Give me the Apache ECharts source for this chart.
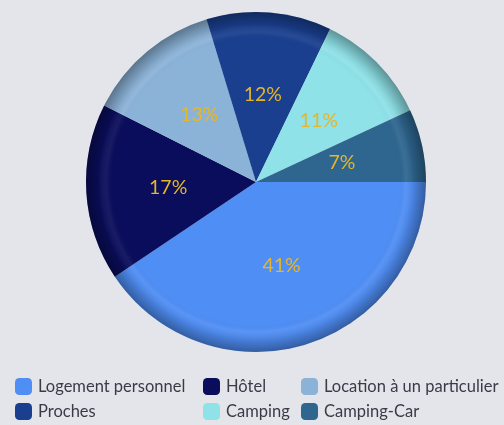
<!DOCTYPE html>
<html><head><meta charset="utf-8">
<script src="https://cdn.jsdelivr.net/npm/echarts@6/dist/echarts.min.js"></script>
<style>html,body{margin:0;padding:0;background:#e4e5ea;}#c{width:504px;height:425px;}</style>
</head><body><div id="c"></div>
<script>
const categories = ['Logement personnel','Hôtel','Location à un particulier','Proches','Camping','Camping-Car'];
const values = [41,17,13,12,11,7];
const colors = ['#4f8ef5','#0a0d5b','#8bb3d8','#1a3f8f','#8ee2e8','#2e6690'];
const legendRows = [['Logement personnel','Hôtel','Location à un particulier'],['Proches','Camping','Camping-Car']];
const colLeft = [15,203,301];
const rowTop = [378,403];

const legends = [];
legendRows.forEach((row,ri)=>row.forEach((name,ci)=>{
  legends.push({data:[name],left:colLeft[ci],top:rowTop[ri],padding:0,itemWidth:17,itemHeight:17,itemGap:0,
    icon:'roundRect',textStyle:{fontFamily:'Lato',fontSize:16.5,color:'#3b3b48',padding:[0,0,0,1]},selectedMode:false});
}));

const chart = echarts.init(document.getElementById('c'),null,{renderer:'canvas'});
chart.setOption({
  backgroundColor:'#e4e5ea',
  animation:false,
  legend:legends,
  series:[{
    type:'pie',
    center:[256,182],
    radius:170,
    startAngle:0,
    clockwise:true,
    z:2,
    label:{show:true,position:'inside',formatter:p=>p.value+'%',color:'#e6b62a',fontFamily:'Lato',fontSize:19.5},
    labelLine:{show:false},
    emphasis:{disabled:true},
    data:categories.map((n,i)=>({name:n,value:values[i],itemStyle:{color:colors[i]}}))
  },{
    type:'pie',
    center:[256,182],
    radius:170,
    z:5,
    silent:true,
    label:{show:false},labelLine:{show:false},
    emphasis:{disabled:true},
    data:[{name:'_shade',value:1,itemStyle:{color:{type:'radial',x:0.5,y:0.5,r:0.5,colorStops:[
      {offset:0,color:'rgba(0,0,0,0)'},{offset:0.84,color:'rgba(0,0,0,0)'},{offset:0.88,color:'rgba(255,255,255,0.06)'},{offset:0.93,color:'rgba(0,0,0,0.1)'},{offset:1,color:'rgba(0,0,0,0.35)'}]}}}]
  }]
});
</script></body></html>
